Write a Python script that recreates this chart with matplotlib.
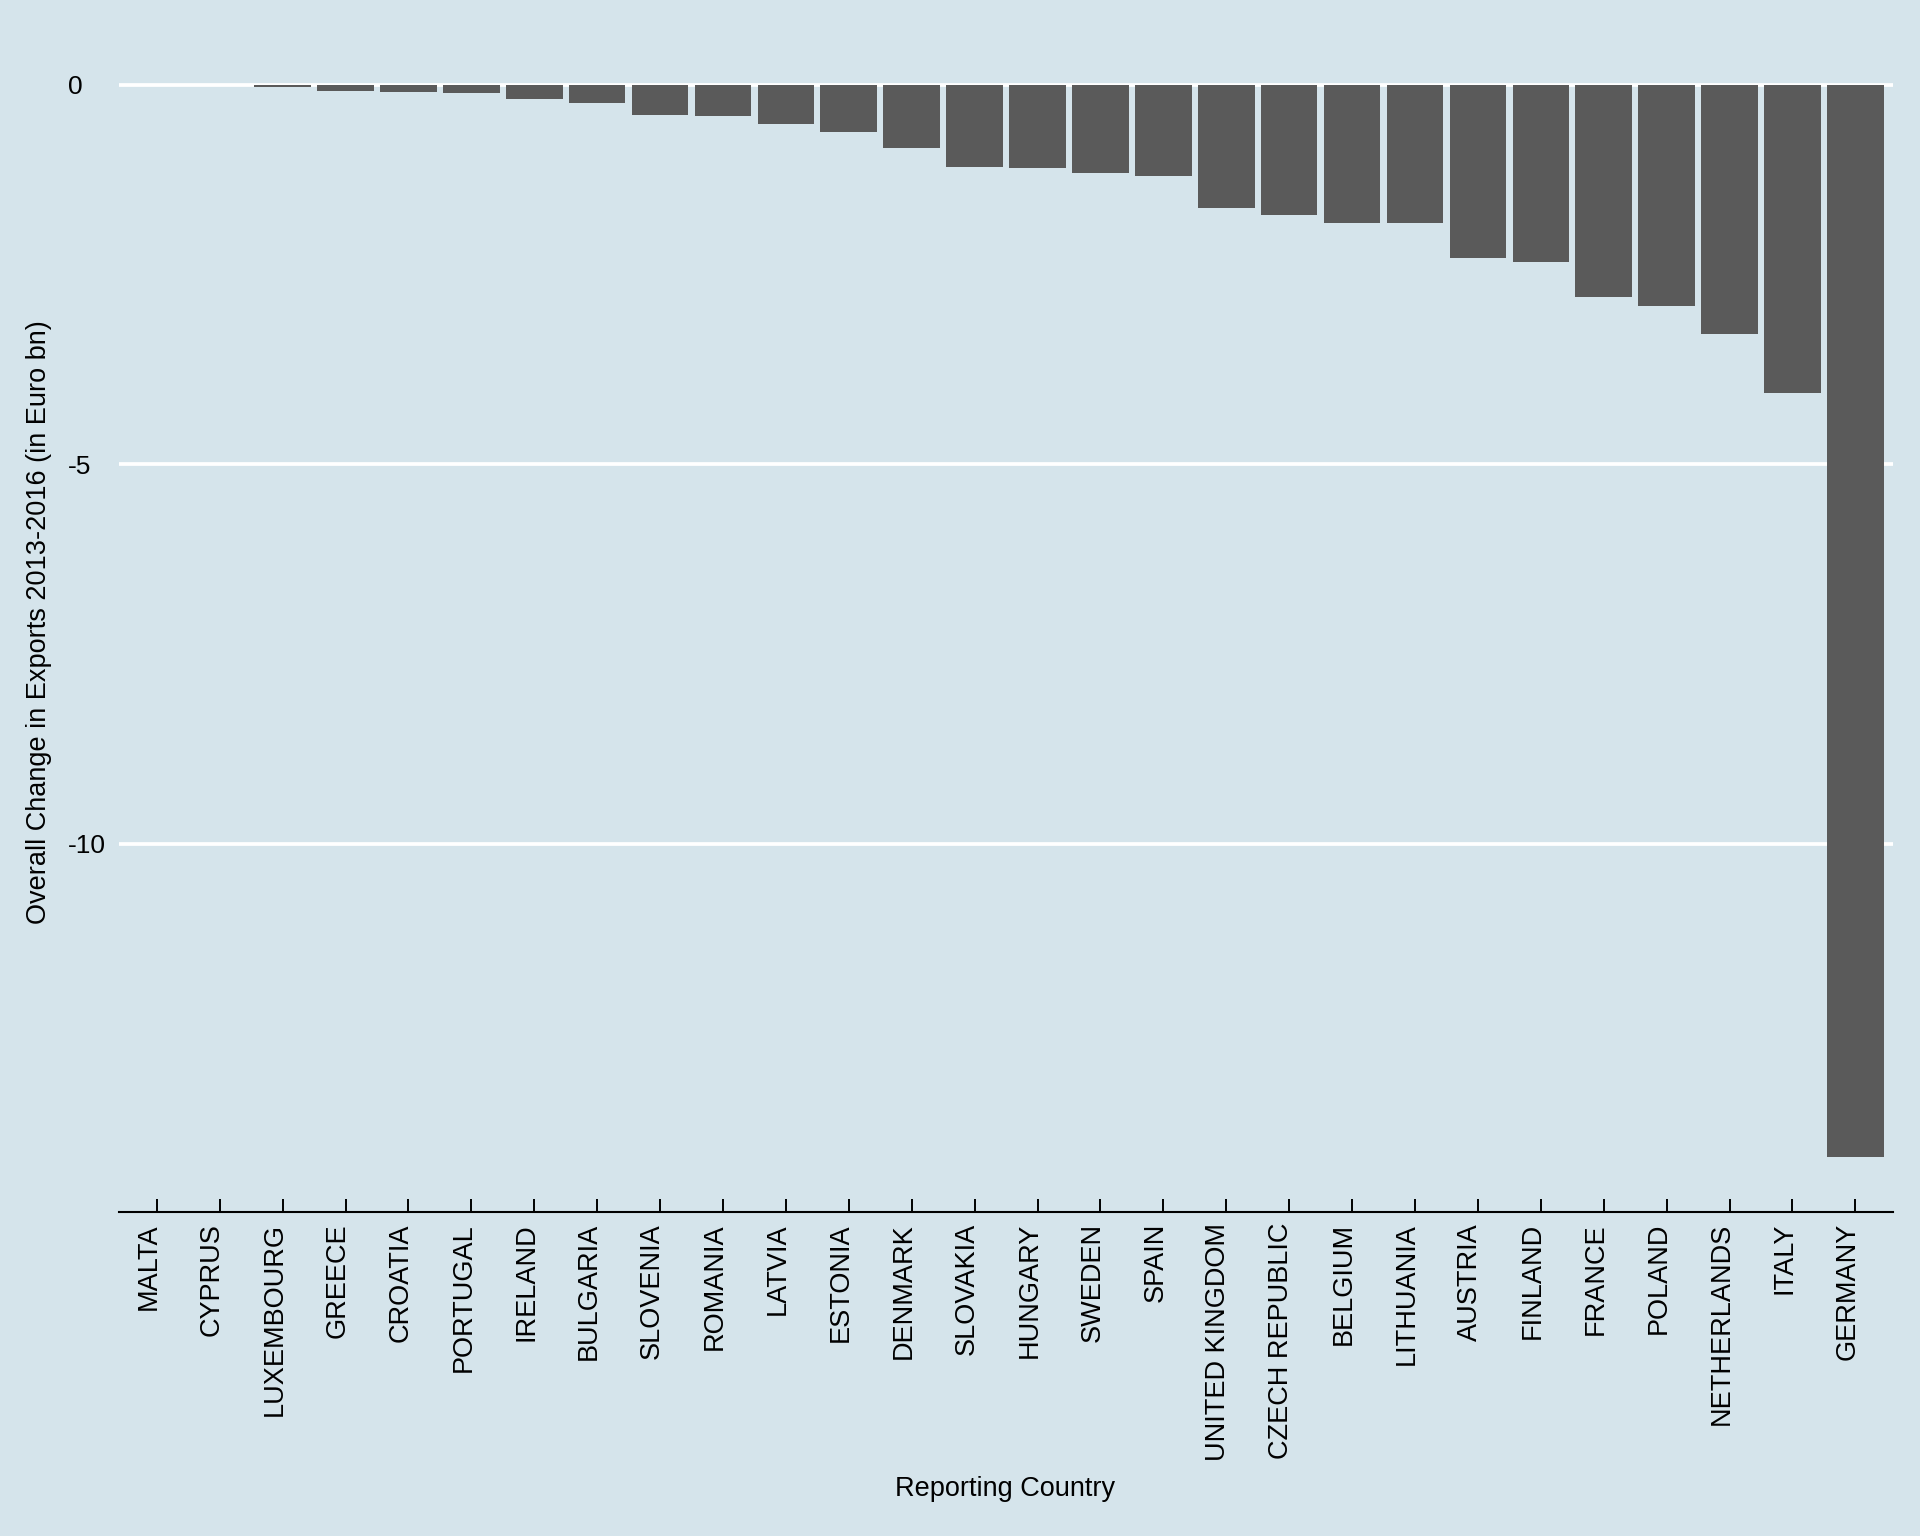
import matplotlib
matplotlib.use('Agg')
import matplotlib.pyplot as plt
import matplotlib.transforms as mtransforms
from numpy import arange

# Data
countries = ['MALTA', 'CYPRUS', 'LUXEMBOURG', 'GREECE', 'CROATIA', 'PORTUGAL',
             'IRELAND', 'BULGARIA', 'SLOVENIA', 'ROMANIA', 'LATVIA', 'ESTONIA',
             'DENMARK', 'SLOVAKIA', 'HUNGARY', 'SWEDEN', 'SPAIN',
             'UNITED KINGDOM', 'CZECH REPUBLIC', 'BELGIUM', 'LITHUANIA',
             'AUSTRIA', 'FINLAND', 'FRANCE', 'POLAND', 'NETHERLANDS', 'ITALY',
             'GERMANY']
change = [-0.002, -0.006, -0.035, -0.085, -0.10, -0.11,
          -0.19, -0.24, -0.40, -0.415, -0.52, -0.625,
          -0.835, -1.09, -1.10, -1.165, -1.205,
          -1.63, -1.72, -1.825, -1.825,
          -2.285, -2.34, -2.80, -2.92, -3.29, -4.07,
          -14.13]
yticks = [0, -5, -10]

bg = '#D5E4EB'
bar_col = '#5A5A5A'

plt.rcParams['font.family'] = ['Liberation Sans', 'DejaVu Sans']

fig = plt.figure(figsize=(19.2, 15.36), dpi=100, facecolor=bg)
ax = fig.add_axes([0.062, 0.211, 0.924, 0.7587], facecolor=bg)

x = arange(len(countries))
ax.bar(x, change, width=0.9, color=bar_col, zorder=3)

ax.set_xlim(-0.6, 27.6)
ax.set_ylim(-14.85, 0.5)

# gridlines
ax.set_yticks(yticks)
ax.set_yticklabels([str(v) for v in yticks], fontsize=19, ha='left')
ax.yaxis.grid(True, color='white', linewidth=2.7, zorder=1)
ax.tick_params(axis='y', length=0, pad=37)

ax.set_xticks(x)
ax.set_xticklabels(countries, rotation=90, fontsize=19.5, va='top', ha='right')
ax.tick_params(axis='x', direction='in', length=9.4, width=1.4, pad=8,
               color='black')
# nudge labels so their baseline sits on the tick
shift = mtransforms.ScaledTranslation(5 / 100, 0, fig.dpi_scale_trans)
for lab in ax.get_xticklabels():
    lab.set_transform(lab.get_transform() + shift)

for s in ('top', 'right', 'left'):
    ax.spines[s].set_visible(False)
ax.spines['bottom'].set_linewidth(1.5)
ax.spines['bottom'].set_color('black')

ax.set_xlabel('Reporting Country', fontsize=19.5)
ax.set_ylabel('Overall Change in Exports 2013-2016 (in Euro bn)', fontsize=19.5)
ax.xaxis.set_label_coords(0.4994, -0.238)
ax.yaxis.set_label_coords(-0.045, 0.506)
ax.xaxis.label.set_va('center')
ax.yaxis.label.set_va('center')

fig.savefig('out.png', dpi=100, facecolor=bg)
